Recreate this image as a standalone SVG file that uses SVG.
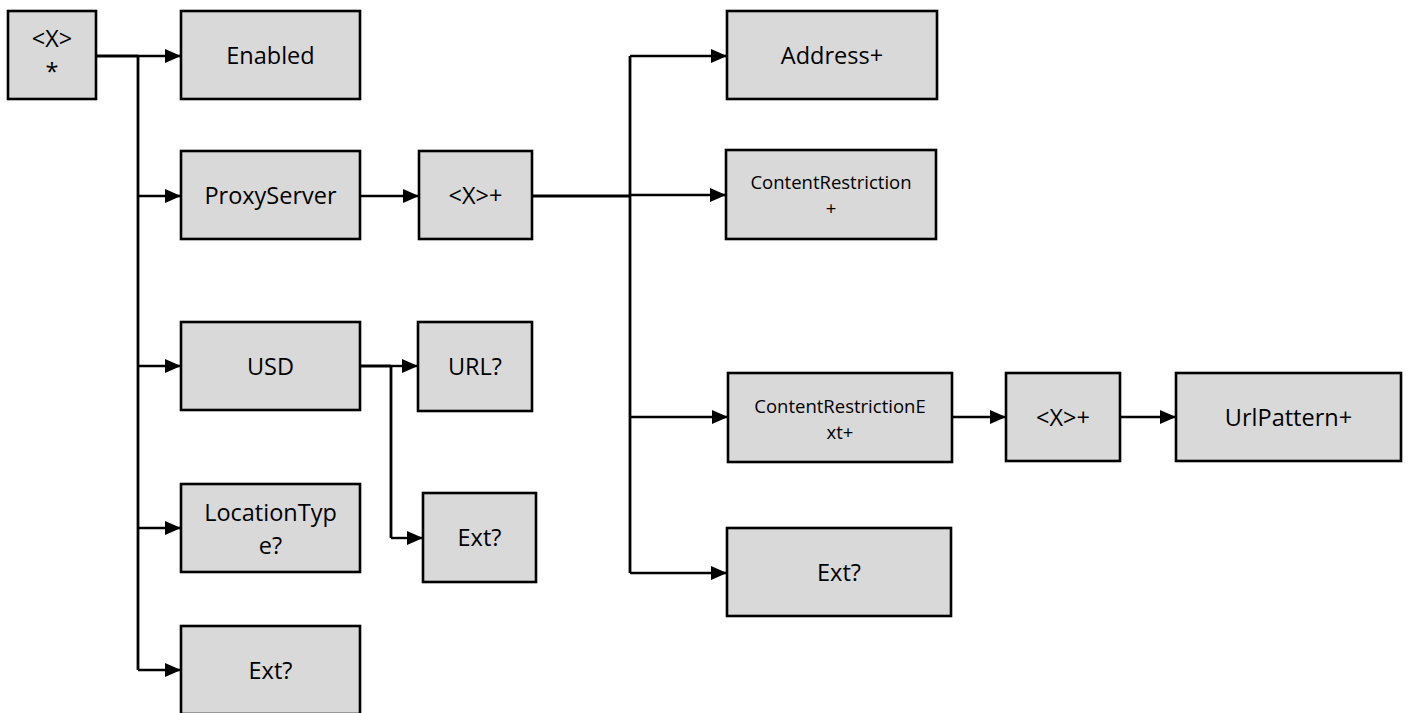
<svg xmlns="http://www.w3.org/2000/svg" width="1408" height="713" viewBox="0 0 1408 713">
<defs>
<marker id="arr" markerUnits="userSpaceOnUse" markerWidth="16" markerHeight="14" refX="16" refY="7" orient="auto">
<path d="M0,0 L16,7 L0,14 z" fill="#000"/>
</marker>
<style>
.box{fill:#d9d9d9;stroke:#000;stroke-width:2.6}
.t{font-family:"Open Sans","Liberation Sans",sans-serif;font-size:23.5px;fill:#000;text-anchor:middle}
.s{font-family:"Open Sans","Liberation Sans",sans-serif;font-size:18.5px;fill:#000;text-anchor:middle}
.ln{fill:none;stroke:#000;stroke-width:2.8}
.ar{fill:none;stroke:#000;stroke-width:2.4;marker-end:url(#arr)}
</style>
</defs>
<rect width="1408" height="713" fill="#fff"/>
<g id="connectors">
<path class="ln" d="M96 56 H138 M138 56 V670"/>
<path class="ar" d="M138 56 H181"/>
<path class="ar" d="M138 196 H181"/>
<path class="ar" d="M138 366 H181"/>
<path class="ar" d="M138 528 H181"/>
<path class="ar" d="M138 670 H181"/>
<path class="ar" d="M360 196 H419"/>
<path class="ln" d="M360 366 H391 M391 366 V538"/>
<path class="ar" d="M391 366 H418"/>
<path class="ar" d="M391 538 H423"/>
<path class="ln" d="M533 196 H630 M630 56 V573"/>
<path class="ar" d="M630 56 H727"/>
<path class="ar" d="M630 195 H726"/>
<path class="ar" d="M630 417 H728"/>
<path class="ar" d="M630 573 H727"/>
<path class="ar" d="M952 417 H1006"/>
<path class="ar" d="M1120 417 H1176"/>
</g>
<g id="root"><rect class="box" x="8" y="11" width="88" height="88"/><text class="t" x="52" y="47">&lt;X&gt;</text><text class="t" x="52" y="80">*</text></g>
<g id="enabled"><rect class="box" x="181" y="11" width="179" height="88"/><text class="t" x="270.5" y="64">Enabled</text></g>
<g id="proxyserver"><rect class="box" x="181" y="151" width="179" height="88"/><text class="t" x="270.5" y="204">ProxyServer</text></g>
<g id="usd"><rect class="box" x="181" y="322" width="179" height="88"/><text class="t" x="270.5" y="375">USD</text></g>
<g id="locationtype"><rect class="box" x="181" y="484" width="179" height="88"/><text class="t" x="270.5" y="521">LocationTyp</text><text class="t" x="270.5" y="554">e?</text></g>
<g id="ext1"><rect class="box" x="181" y="626" width="179" height="88"/><text class="t" x="270.5" y="679">Ext?</text></g>
<g id="x-plus-1"><rect class="box" x="419" y="151" width="113" height="88"/><text class="t" x="475.5" y="204">&lt;X&gt;+</text></g>
<g id="url"><rect class="box" x="418" y="322" width="114" height="89"/><text class="t" x="475" y="375">URL?</text></g>
<g id="ext2"><rect class="box" x="423" y="493" width="113" height="89"/><text class="t" x="479.5" y="546">Ext?</text></g>
<g id="address"><rect class="box" x="727" y="11" width="210" height="88"/><text class="t" x="832" y="64">Address+</text></g>
<g id="contentrestriction"><rect class="box" x="726" y="150" width="210" height="89"/><text class="s" x="831" y="189">ContentRestriction</text><text class="s" x="831" y="215">+</text></g>
<g id="contentrestrictionext"><rect class="box" x="728" y="373" width="224" height="89"/><text class="s" x="840" y="413">ContentRestrictionE</text><text class="s" x="840" y="439">xt+</text></g>
<g id="ext3"><rect class="box" x="727" y="528" width="224" height="88"/><text class="t" x="839" y="581">Ext?</text></g>
<g id="x-plus-2"><rect class="box" x="1006" y="373" width="114" height="88"/><text class="t" x="1063" y="426">&lt;X&gt;+</text></g>
<g id="urlpattern"><rect class="box" x="1176" y="373" width="225" height="88"/><text class="t" x="1288.5" y="426">UrlPattern+</text></g>
</svg>
